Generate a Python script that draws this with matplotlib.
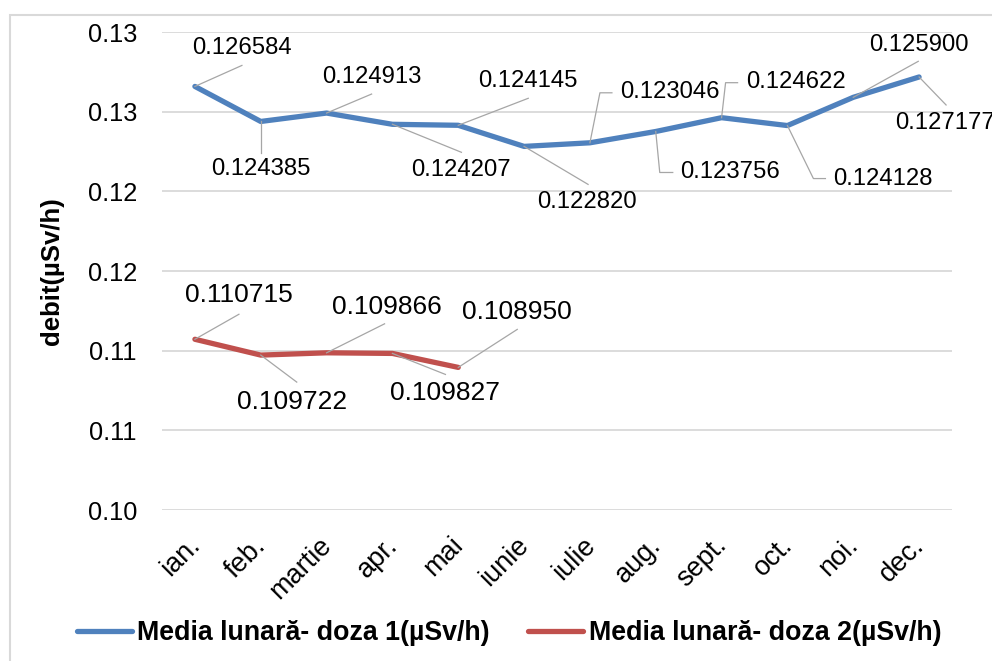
import numpy as np
import matplotlib
matplotlib.use('Agg')
import matplotlib.pyplot as plt
import matplotlib.transforms as mtransforms
from matplotlib.lines import Line2D
from matplotlib.patches import Rectangle
from matplotlib.ticker import MultipleLocator, FuncFormatter
from decimal import Decimal, ROUND_HALF_UP

plt.rcParams['font.family'] = ['Liberation Sans', 'DejaVu Sans']

# data
months = ['ian.', 'feb.', 'martie', 'apr.', 'mai', 'iunie', 'iulie', 'aug.',
          'sept.', 'oct.', 'noi.', 'dec.']
doza1 = [0.126584, 0.124385, 0.124913, 0.124207, 0.124145, 0.122820,
         0.123046, 0.123756, 0.124622, 0.124128, 0.125900, 0.127177]
doza2 = [0.110715, 0.109722, 0.109866, 0.109827, 0.108950]
label1 = 'Media lunară- doza 1(µSv/h)'
label2 = 'Media lunară- doza 2(µSv/h)'

# label positions (pixel offsets from the point) and leader lines
lab_off1 = [(47, 38), (0, -48), (45, 36), (69, -46), (70, 44), (63, -56),
            (80, 51), (74, -41), (74, 36), (95, -53), (66, 52), (26, -46)]
lead_off1 = [[(47, 21)], [(0, -32)], [(45, 19)], [(69, -28)], [(70, 27)],
             [(64, -38)], [(10, 50), (22, 50)], [(4, -41), (17, -41)],
             [(4, 35), (16, 35)], [(26, -53), (38, -53)], [(65, 36)],
             [(27, -28)]]
lab_off2 = [(44, 44), (31, -47), (60, 46), (53, -40), (59, 55)]
lead_off2 = [[(44, 25)], [(36, -27)], [(58, 29)], [(53, -21)], [(59, 38)]]

blue = '#4F81BD'
red = '#C0504D'
grid_c = '#D9D9D9'
lead_c = '#A6A6A6'

fig = plt.figure(figsize=(9.92, 6.61), dpi=100)
ax = fig.add_axes([162/992, 1-510/661, 790/992, 478/661])

# outer chart border
fig.add_artist(Rectangle((10/992, -0.1), 2, 1.1-15/661, transform=fig.transFigure,
                         fill=False, edgecolor=grid_c, lw=1.5))

x1 = np.arange(len(doza1))
x2 = np.arange(len(doza2))
ax.plot(x1, doza1, color=blue, lw=3.8, solid_capstyle='round',
        solid_joinstyle='round', label=label1, zorder=3)
ax.plot(x2, doza2, color=red, lw=3.8, solid_capstyle='round',
        solid_joinstyle='round', label=label2, zorder=3)

ax.set_xlim(-0.5, len(months)-0.5)
ax.set_ylim(0.100, 0.130)
ax.yaxis.set_major_locator(MultipleLocator(0.005))

def excel_fmt(v, pos):
    return str(Decimal(str(round(v, 6))).quantize(Decimal('0.01'), rounding=ROUND_HALF_UP))
ax.yaxis.set_major_formatter(FuncFormatter(excel_fmt))

ax.grid(axis='y', color=grid_c, lw=1.3)
ax.set_axisbelow(True)
for s in ax.spines.values():
    s.set_visible(False)
ax.tick_params(axis='y', length=0, pad=18, labelsize=18.3)
ax.tick_params(axis='x', length=0, pad=16, labelsize=19.5)
ax.set_xticks(x1)
ax.set_xticklabels(months)
shift = mtransforms.ScaledTranslation(-8/100, 0, fig.dpi_scale_trans)
for t in ax.get_xticklabels():
    t.set_rotation(45)
    t.set_ha('right')
    t.set_va('top')
    t.set_rotation_mode('anchor')
    t.set_transform(t.get_transform() + shift)

ax.set_ylabel('debit(µSv/h)', fontsize=18.5, fontweight='bold')
ax.yaxis.set_label_coords(-0.124, 0.5)

def data_labels(xs, vals, lab_off, lead_off, size):
    for xi, v, lo, ld in zip(xs, vals, lab_off, lead_off):
        tr = mtransforms.ScaledTranslation(xi, v, ax.transData)
        pts = [(0, 0)] + ld
        fig.add_artist(Line2D([p[0] for p in pts], [p[1] for p in pts],
                              transform=tr, color=lead_c, lw=0.9, zorder=4))
        ax.annotate(f'{v:.6f}', xy=(xi, v), xytext=lo, textcoords='offset pixels',
                    ha='center', va='center', fontsize=size, zorder=5,
                    annotation_clip=False)

data_labels(x1, doza1, lab_off1, lead_off1, 17.2)
data_labels(x2, doza2, lab_off2, lead_off2, 19)

fig.legend(loc='center', bbox_to_anchor=(509/992, 1-633/661), ncol=2,
           frameon=False, prop=dict(weight='bold', size=19.3),
           handlelength=2.05, handletextpad=0.2, columnspacing=1.45)

fig.savefig('out.png', dpi=100)
